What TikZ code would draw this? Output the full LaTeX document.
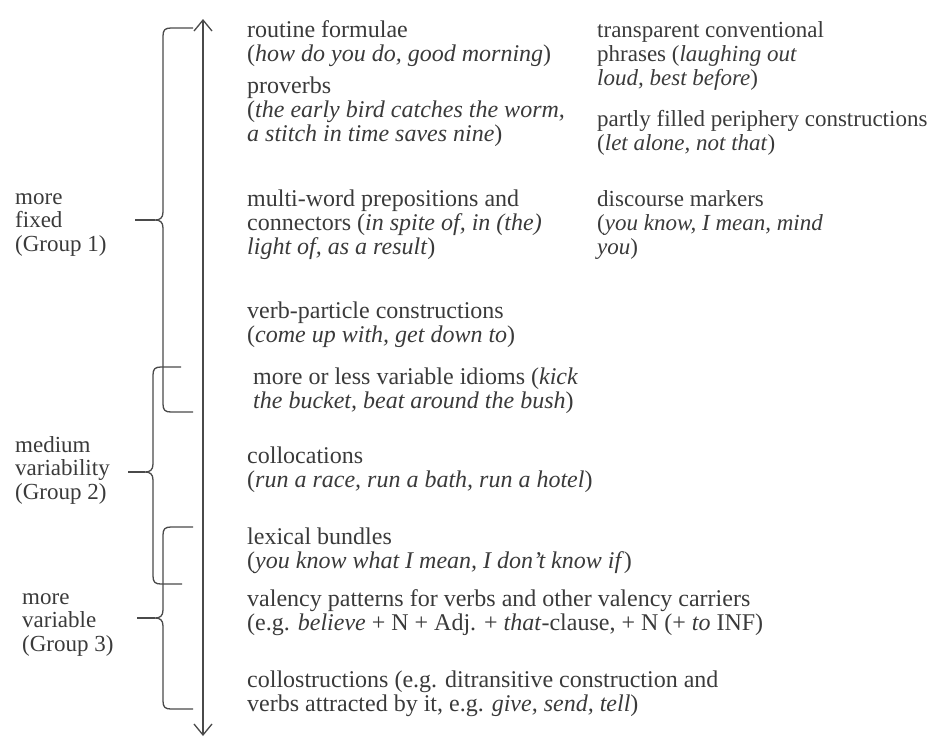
\documentclass[tikz,border=0pt]{standalone}
\usepackage{fontspec}
\setmainfont{Liberation Serif}
\usetikzlibrary{arrows.meta}
\definecolor{ink}{HTML}{3A3A3A}
\definecolor{rule}{HTML}{4A4A4A}
% one block of left-aligned lines, aligned on its first baseline
\newcommand\lns[1]{\begin{tabular}[t]{@{}l@{}}#1\end{tabular}}
\renewcommand\arraystretch{1}
\begin{document}
\begin{tikzpicture}[x=1pt,y=-1pt,
  txt/.style={anchor=base west,inner sep=0pt,text=ink,
    font=\fontsize{24}{24}\selectfont},
  side/.style={txt,font=\fontsize{23}{24}\selectfont},
  lbl/.style={txt,font=\fontsize{23}{23.5}\selectfont},
  brc/.style={draw=rule,line width=1.3pt},
  axis/.style={draw=rule,line width=1.3pt,{Straight Barb[length=11pt,width=18pt]}-{Straight Barb[length=11pt,width=18pt]}}]
\useasboundingbox (0,0) rectangle (939,737);

% scale from fixed to variable
\coordinate (axtop) at (203,19);
\coordinate (axbot) at (203,736);
\draw[axis] (axtop) -- (axbot);

% group labels
\node[lbl] (g1) at (15,204) {\lns{more\\fixed\\(Group 1)}};
\node[lbl] (g2) at (15,452) {\lns{medium\\variability\\(Group 2)}};
\node[lbl] (g3) at (22,604) {\lns{more\\variable\\(Group 3)}};

% braces: arm top, tip, arm bottom
\draw[brc] (193,28) -- (171,28) .. controls (165,28) and (163,30) .. (163,36)
  -- (163,212) .. controls (163,218) and (160,220) .. (155,220)
  .. controls (160,220) and (163,222) .. (163,228)
  -- (163,404) .. controls (163,410) and (165,412) .. (171,412) -- (193,412);
\draw[brc] (155,220) -- (135,220);

\draw[brc] (181,367) -- (161,367) .. controls (155,367) and (153,369) .. (153,375)
  -- (153,464) .. controls (153,470) and (150,472) .. (145,472)
  .. controls (150,472) and (153,474) .. (153,480)
  -- (153,576) .. controls (153,582) and (155,584) .. (161,584) -- (182,584);
\draw[brc] (145,472) -- (128,472);

\draw[brc] (193,527) -- (171,527) .. controls (165,527) and (163,529) .. (163,535)
  -- (163,610) .. controls (163,616) and (160,618) .. (155,618)
  .. controls (160,618) and (163,620) .. (163,626)
  -- (163,701) .. controls (163,707) and (165,709) .. (171,709) -- (193,709);
\draw[brc] (155,618) -- (137,618);

% first column
\node[txt] (routine) at (247,37) {\lns{routine formulae\\(\textit{how do you do, good morning})}};
\node[txt] (proverbs) at (247,93) {\lns{proverbs\\(\textit{the early bird catches the worm,}\\\textit{a stitch in time saves nine})}};
\node[txt] (multi) at (247,206) {\lns{multi-word prepositions and\\connectors (\textit{in spite of, in (the)}\\\textit{light of, as a result})}};
\node[txt] (verbpart) at (247,318) {\lns{verb-particle constructions\\(\textit{come up with, get down to})}};
\node[txt] (idioms) at (253,384) {\lns{more or less variable idioms (\textit{kick}\\\textit{the bucket, beat around the bush})}};
\node[txt] (colloc) at (247,463) {\lns{collocations\\(\textit{run a race, run a bath, run a hotel})}};
\node[txt] (bundles) at (247,544) {\lns{lexical bundles\\(\textit{you know what I mean, I don't know if})}};
\node[txt] (valency) at (247,606) {\lns{valency patterns for verbs and other valency carriers\\(e.g. \textit{believe} + N + Adj. + \textit{that}-clause, + N (+ \textit{to} INF)}};
\node[txt] (collostr) at (247,687) {\lns{collostructions (e.g. ditransitive construction and\\verbs attracted by it, e.g. \textit{give, send, tell})}};

% second column
\node[side] (transp) at (597,37) {\lns{transparent conventional\\phrases (\textit{laughing out}\\\textit{loud, best before})}};
\node[side] (periph) at (597,126) {\lns{partly filled periphery constructions\\(\textit{let alone, not that})}};
\node[side] (discourse) at (597,206) {\lns{discourse markers\\(\textit{you know, I mean, mind}\\\textit{you})}};
\end{tikzpicture}
\end{document}
